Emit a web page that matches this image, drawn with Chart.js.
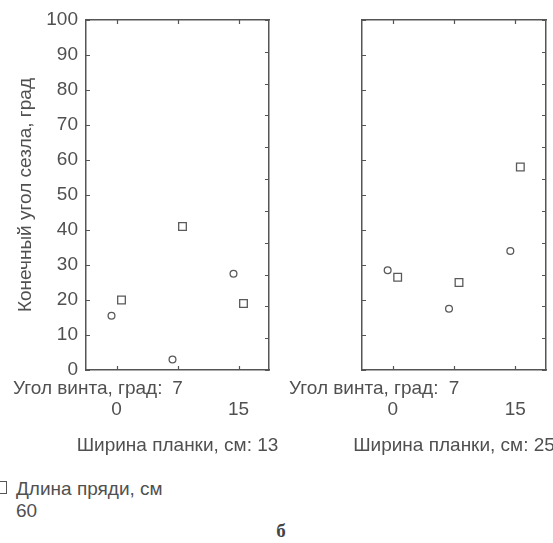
<!DOCTYPE html>
<html>
<head>
<meta charset="utf-8">
<script src="https://cdn.jsdelivr.net/npm/chart.js@4"></script>
<style>
  html, body { margin: 0; padding: 0; background: #fff; }
  body { position: relative; width: 553px; height: 543px; overflow: hidden;
         font-family: 'Liberation Sans', Arial, sans-serif; color: #505050; }
  #panelLeft { position: absolute; left: 0; top: 0; }
  #panelRight { position: absolute; left: 280px; top: 0; }
  .legend { position: absolute; left: 16px; top: 478px; font-size: 19px; line-height: 22px; }
  .legend .box { position: absolute; left: -21px; top: 3px; width: 10px; height: 11px;
                 border: 1.3px solid #555; background: #fff; }
  .caption { position: absolute; left: 0; width: 562px; top: 520px; text-align: center;
             font: bold 19px 'Liberation Serif', 'Times New Roman', serif; color: #444; }
</style>
</head>
<body>
<canvas id="panelLeft" width="280" height="470"></canvas>
<canvas id="panelRight" width="273" height="470"></canvas>
<div class="legend"><span class="box"></span>Длина пряди, см<br>60</div>
<div class="caption">б</div>

<script>
// Categories: screw angle, degrees
const angleLabels = ['0', '7', '15'];
// Plank widths, cm (one panel each)
const plankWidths = ['13', '25'];
// Final seal angle, degrees — plank 13 cm
const plank13Circles = [15.5, 3, 27.5];
const plank13Squares = [20, 41, 19];      // strand length 60 cm
// Final seal angle, degrees — plank 25 cm
const plank25Circles = [28.5, 17.5, 34];
const plank25Squares = [26.5, 25, 58];    // strand length 60 cm
const squaresLength = '60';

const textColor = '#505050';
const frameColor = '#555555';
const markColor = '#5a5a5a';
const baseFont = { family: "'Liberation Sans', Arial, sans-serif", size: 19, lineHeight: 1.08 };
const labelPad = 8.5;

// shift each series sideways inside its category (circles left, squares right)
const categoryJitter = {
  id: 'categoryJitter',
  afterDatasetsUpdate(chart) {
    chart.data.datasets.forEach((ds, i) => {
      const dx = ds.shiftX || 0;
      chart.getDatasetMeta(i).data.forEach(pt => { pt.x += dx; });
    });
  }
};

// short tick marks pointing into the plot on all four sides
const inwardTicks = {
  id: 'inwardTicks',
  afterDraw(chart) {
    const { ctx, chartArea: a, scales } = chart;
    const len = 4;
    ctx.save();
    ctx.strokeStyle = frameColor;
    ctx.lineWidth = 1.2;
    ctx.beginPath();
    scales.y.ticks.forEach(t => {
      const p = Math.round(scales.y.getPixelForValue(t.value)) + 0.5;
      ctx.moveTo(a.left, p); ctx.lineTo(a.left + len, p);
    });
    scales.y2.ticks.forEach(t => {
      const p = Math.round(scales.y2.getPixelForValue(t.value)) + 0.5;
      ctx.moveTo(a.right, p); ctx.lineTo(a.right - len, p);
    });
    scales.x.ticks.forEach((t, i) => {
      const p = Math.round(scales.x.getPixelForTick(i)) + 0.5;
      ctx.moveTo(p, a.bottom); ctx.lineTo(p, a.bottom - len);
      ctx.moveTo(p, a.top); ctx.lineTo(p, a.top + len);
    });
    ctx.stroke();
    ctx.restore();
  }
};

// category variable name in front of the first label row, and the panel
// variable (plank width) centred under the labels
const axisCaptions = {
  id: 'axisCaptions',
  afterDraw(chart, args, opts) {
    const { ctx, chartArea: a, scales } = chart;
    const lh = baseFont.size * baseFont.lineHeight;
    ctx.save();
    ctx.font = `${baseFont.size}px ${baseFont.family}`;
    ctx.fillStyle = textColor;
    ctx.textBaseline = 'middle';
    ctx.textAlign = 'left';
    ctx.fillText(opts.angleText, a.left - opts.indent, scales.x.top + labelPad + lh / 2);
    ctx.textAlign = 'center';
    ctx.fillText(opts.panelText, (a.left + a.right) / 2, scales.x.bottom - opts.panelGap - lh / 2);
    ctx.restore();
  }
};

function drawPanel(canvasId, circles, squares, plankWidth, cfg) {
  const marker = {
    showLine: false,
    borderColor: markColor,
    backgroundColor: '#ffffff',
    pointBorderWidth: 1.3
  };
  return new Chart(document.getElementById(canvasId), {
    type: 'line',
    data: {
      labels: angleLabels,
      datasets: [
        Object.assign({ label: '', data: circles, pointStyle: 'circle', pointRadius: 3.4, shiftX: -5 }, marker),
        Object.assign({ label: squaresLength, data: squares, pointStyle: 'rect', pointRadius: 5.4, shiftX: 5 }, marker)
      ]
    },
    options: {
      responsive: false,
      animation: false,
      events: [],
      layout: { padding: { top: 20, right: cfg.padRight, bottom: 0, left: 0 } },
      plugins: {
        legend: { display: false },
        tooltip: { enabled: false },
        axisCaptions: {
          angleText: 'Угол винта, град:', indent: 73,
          panelText: 'Ширина планки, см: ' + plankWidth, panelGap: 13.7
        }
      },
      scales: {
        x: {
          type: 'category',
          position: 'bottom',
          offset: true,
          grid: { display: false, drawTicks: false },
          border: { display: true, color: frameColor, width: 1.5 },
          ticks: {
            color: textColor, font: baseFont, padding: labelPad,
            maxRotation: 0, autoSkip: false,
            // middle category on the first row, the others on the second
            callback: (v, i) => (i % 2 ? [angleLabels[i]] : ['', angleLabels[i]])
          },
          afterFit: s => { s.height = 100; }
        },
        x2: {
          type: 'category',
          position: 'top',
          offset: true,
          grid: { display: false, drawTicks: false },
          border: { display: true, color: frameColor, width: 1.5 },
          ticks: { display: false },
          afterFit: s => { s.height = 0; }
        },
        y: {
          type: 'linear',
          position: 'left',
          min: 0, max: 100,
          grid: { display: false, drawTicks: false },
          border: { display: true, color: frameColor, width: 1.5 },
          ticks: { display: cfg.yLabels, stepSize: 10, color: textColor, font: baseFont, padding: 8 },
          title: {
            display: cfg.yLabels, text: 'Конечный угол сезла, град',
            color: textColor, font: baseFont, padding: { top: 15.7, bottom: 0 }
          },
          afterFit: s => { s.width = cfg.leftWidth; }
        },
        y2: {
          type: 'linear',
          position: 'right',
          min: 0, max: 110,
          grid: { display: false, drawTicks: false },
          border: { display: true, color: frameColor, width: 1.5 },
          ticks: { display: false, stepSize: 10 },
          afterFit: s => { s.width = 0; }
        }
      }
    },
    plugins: [categoryJitter, inwardTicks, axisCaptions]
  });
}

drawPanel('panelLeft', plank13Circles, plank13Squares, plankWidths[0], { yLabels: true, leftWidth: 86, padRight: 11 });
drawPanel('panelRight', plank25Circles, plank25Squares, plankWidths[1], { yLabels: false, leftWidth: 82, padRight: 7 });
</script>
</body>
</html>
